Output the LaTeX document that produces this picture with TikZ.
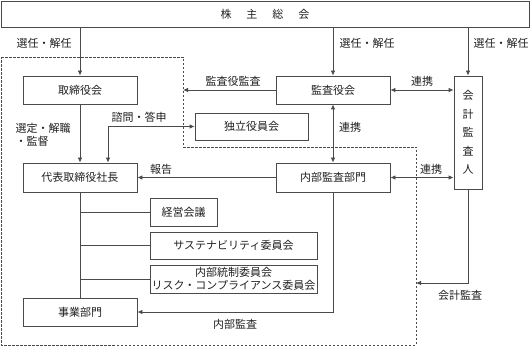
\documentclass[tikz,border=0pt]{standalone}
\usepackage{fontspec}
\newfontfamily\jpfont{Noto Sans CJK JP}
\usetikzlibrary{arrows.meta,positioning,calc}
\definecolor{boxline}{HTML}{4A4A4A}
\definecolor{labeltext}{HTML}{202020}

\begin{document}
\begin{tikzpicture}[x=1pt,y=-1pt,>={Latex[length=5pt,width=4.5pt]},
  font=\jpfont\fontsize{11}{13}\selectfont,text=labeltext,
  box/.style={draw=boxline,line width=.8pt,inner sep=0pt,minimum height=28pt},
  conn/.style={draw=boxline,line width=.8pt},
  frameline/.style={draw=boxline,line width=.8pt,dash pattern=on 2.5pt off 1.5pt}]
\useasboundingbox (0,0) rectangle (531,347);
% boundary of the company side
\draw[frameline] (1,57) -- (183,57) -- (183,147) -- (416,147) -- (416,345) -- (1,345) -- cycle;
\coordinate (fk) at (183,90);
\coordinate (fa) at (416,283);
% boxes
\node[box,minimum width=528pt,minimum height=26pt] (gm) at (265,14) {株\hspace{15pt}主\hspace{15pt}総\hspace{15pt}会};
\node[box,minimum width=114pt] (board) at (80,90) {取締役会};
\node[box,minimum width=114pt] (kansa) at (333,90) {監査役会};
\node[box,minimum width=28pt,minimum height=113pt,align=center,font=\jpfont\fontsize{11}{18.5}\selectfont] (auditor) at (468,132.5) {会\\計\\監\\査\\人};
\node[box,minimum width=113pt,minimum height=27pt] (indep) at (251.5,126.5) {独立役員会};
\node[box,minimum width=114pt,minimum height=29pt] (ceo) at (80,177.5) {代表取締役社長};
\node[box,minimum width=114pt,minimum height=29pt] (audit) at (333,177.5) {内部監査部門};
\node[box,minimum width=67pt] (mgmt) at (183.5,212) {経営会議};
\node[box,minimum width=167pt,minimum height=27pt] (sus) at (233.5,245.5) {サステナビリティ委員会};
\node[box,minimum width=167pt,align=center,font=\jpfont\fontsize{11}{12.5}\selectfont] (ic) at (233.5,279) {内部統制委員会\\リスク・コンプライアンス委員会};
\node[box,minimum width=114pt] (biz) at (80,312) {事業部門};
% connectors
\draw[conn,->] (gm.south -| board) -- (board.north);
\draw[conn,->] (gm.south -| kansa) -- (kansa.north);
\draw[conn,->] (gm.south -| auditor) -- (auditor.north);
\draw[conn,->] (kansa.west) -- (fk);
\draw[conn,<->] (kansa.east) -- (kansa.east -| auditor.west);
\draw[conn,<->] (kansa.south) -- (audit.north);
\draw[conn,->] (board.south) -- (ceo.north);
\draw[conn,<->] ([xshift=28pt]ceo.north) |- (indep.west);
\draw[conn,->] (audit.west) -- (ceo.east);
\draw[conn,<->] (audit.east) -- (audit.east -| auditor.west);
\draw[conn] (ceo.south) -- (biz.north);
\foreach \n in {mgmt,sus,ic}
  \draw[conn] (ceo.south |- \n.west) -- (\n.west);
\draw[conn,->] (audit.south) |- (biz.east);
\draw[conn,->] (auditor.south) |- (fa);
% labels
\node at (44,43) {選任・解任};
\node at (367,43) {選任・解任};
\node at (501,43) {選任・解任};
\node at (233,81) {監査役監査};
\node at (422,81) {連携};
\node at (350,127) {連携};
\node at (139,117) {諮問・答申};
\node[align=left,anchor=west] at (12,135) {選定・解職\\・監督};
\node at (161,169) {報告};
\node at (431,169) {連携};
\node at (235,324) {内部監査};
\node at (460,295) {会計監査};
\end{tikzpicture}
\end{document}
